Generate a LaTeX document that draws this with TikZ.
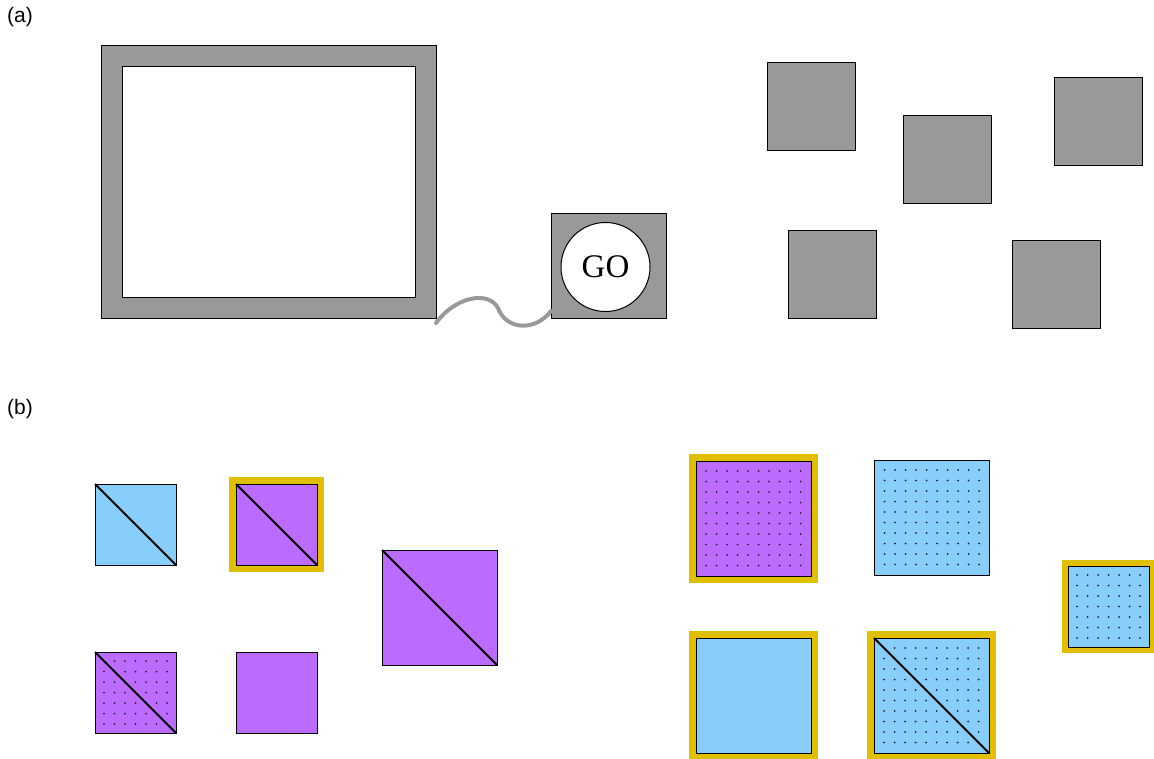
\documentclass[tikz,border=0pt]{standalone}
\usepackage{fontspec}
\setmainfont{Liberation Serif}
\newfontfamily\labfont{Liberation Sans}
\usetikzlibrary{calc}
\definecolor{gbox}{RGB}{153,153,153}
\definecolor{lblue}{RGB}{135,206,250}
\definecolor{purp}{RGB}{187,108,255}
\definecolor{ybord}{RGB}{224,190,0}
\definecolor{dotc}{RGB}{40,30,60}
\tikzset{
  sq/.style={draw=black, line width=1pt, inner sep=0pt, outer sep=0pt, minimum size=#1},
  ybox/.style={fill=ybord, draw=none, inner sep=0pt, outer sep=0pt, minimum size=#1},
  diag/.style={draw=black, line width=2pt},
  wire/.style={draw=gbox, line width=4pt, line cap=round},
  lab/.style={font=\labfont\fontsize{21}{24}\selectfont, anchor=north west, inner sep=0pt},
}
\newcommand{\dotgrid}[3]{% node, count-1, offset
  \foreach \i in {0,...,#2} \foreach \j in {0,...,#2}
    \fill[dotc] ($(#1.north west)+(#3+10.5*\i,#3+10.5*\j)$) circle (1pt);}
\begin{document}
\begin{tikzpicture}[x=1pt,y=-1pt]
\useasboundingbox (0,0) rectangle (1154,759);
% (a)
\node[lab] (la) at (7,7) {(a)};
\node[sq, fill=gbox, minimum width=335pt, minimum height=273pt] (frame) at (268.5,182.5) {};
\node[sq, fill=white, minimum width=293pt, minimum height=231pt] (screen) at (268.5,182.5) {};
\node[sq, fill=gbox, minimum width=115pt, minimum height=105pt] (gobox) at (608.5,266.5) {};
\node[circle, draw=black, line width=1pt, fill=white, minimum size=89pt, inner sep=0pt,
      font=\fontsize{33}{35}\selectfont] (go) at (605.5,267) {GO};
\coordinate (w1) at ([yshift=-4pt]frame.south east);
\coordinate (w2) at ([yshift=8pt]gobox.south west);
\draw[wire] (w1) .. controls (455,297) and (488,290) .. (498,308)
  .. controls (506,330) and (535,332) .. (w2);
\node[sq, fill=gbox, minimum size=88pt] (g1) at (811,107) {};
\node[sq, fill=gbox, minimum size=88pt] (g2) at (947,160) {};
\node[sq, fill=gbox, minimum size=88pt] (g3) at (1098,122) {};
\node[sq, fill=gbox, minimum size=88pt] (g4) at (832,275) {};
\node[sq, fill=gbox, minimum size=88pt] (g5) at (1056,285) {};
% (b)
\node[lab] (lb) at (7,399) {(b)};
% blue diag
\node[sq=81pt, fill=lblue] (b1) at (135.5,524.5) {};
\draw[diag] (b1.north west) -- (b1.south east);
% purple diag yellow
\node[ybox=95pt] (y2) at (276.5,524.5) {};
\node[sq=81pt, fill=purp] (b2) at (276.5,524.5) {};
\draw[diag] (b2.north west) -- (b2.south east);
% big purple diag
\node[sq=115pt, fill=purp] (b3) at (439.5,607.5) {};
\draw[diag] (b3.north west) -- (b3.south east);
% purple dotted diag
\node[sq=81pt, fill=purp] (b4) at (135.5,692.5) {};
\dotgrid{b4}{6}{9}
\draw[diag] (b4.north west) -- (b4.south east);
% purple plain
\node[sq=81pt, fill=purp] (b5) at (276.5,692.5) {};
% right: purple dotted yellow
\node[ybox=129pt] (y6) at (753.5,518.5) {};
\node[sq=115pt, fill=purp] (b6) at (753.5,518.5) {};
\dotgrid{b6}{9}{10}
% blue dotted
\node[sq=115pt, fill=lblue] (b7) at (932,517.5) {};
\dotgrid{b7}{9}{10}
% small blue dotted yellow
\node[ybox=93pt] (y8) at (1108,606.5) {};
\node[sq=81pt, fill=lblue] (b8) at (1108.5,606.5) {};
\dotgrid{b8}{6}{9}
% blue plain yellow
\node[ybox=129pt] (y9) at (753.5,695.5) {};
\node[sq=115pt, fill=lblue] (b9) at (753.5,695.5) {};
% blue dotted diag yellow
\node[ybox=129pt] (y10) at (931.5,695.5) {};
\node[sq=115pt, fill=lblue] (b10) at (931.5,695.5) {};
\dotgrid{b10}{9}{10}
\draw[diag] (b10.north west) -- (b10.south east);
\end{tikzpicture}
\end{document}
